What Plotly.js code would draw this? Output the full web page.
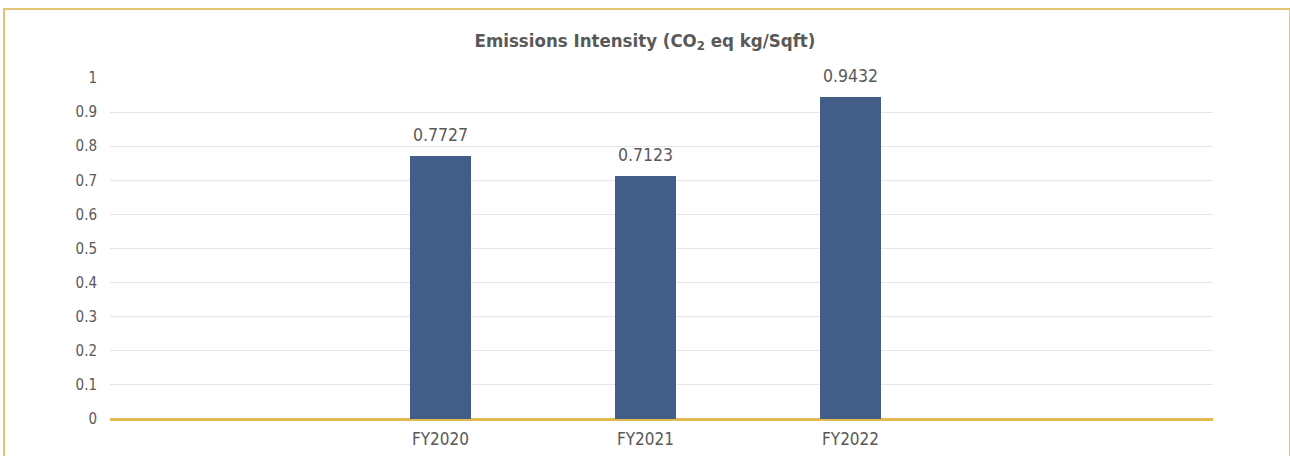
<!DOCTYPE html>
<html><head><meta charset="utf-8">
<script src="https://cdn.plot.ly/plotly-3.0.1.min.js"></script>
<style>
html,body{margin:0;padding:0;background:#fff;}
#wrap{position:relative;width:1290px;height:456px;overflow:hidden;}
#chart{position:absolute;left:0;top:0;width:1290px;height:456px;}
#frame{position:absolute;left:3px;top:8px;width:1284px;height:460px;border:2px solid #e4c372;pointer-events:none;}
</style></head>
<body><div id="wrap"><div id="chart"></div><div id="frame"></div></div>
<script>
const categories = ["FY2020", "FY2021", "FY2022"];
const intensity = [0.7727, 0.7123, 0.9432];
const intensityLabels = ["0.7727", "0.7123", "0.9432"];
const yTicks = [0, 0.1, 0.2, 0.3, 0.4, 0.5, 0.6, 0.7, 0.8, 0.9, 1];
const yTickText = ["0", "0.1", "0.2", "0.3", "0.4", "0.5", "0.6", "0.7", "0.8", "0.9", "1"];

const font = "'DejaVu Sans Condensed', 'Roboto Condensed', 'Liberation Sans Narrow', sans-serif";
const grey = "#595959";

const labels = categories.map((c, i) => ({
  x: c, y: intensity[i], text: intensityLabels[i], showarrow: false,
  xref: "x", yref: "y", yanchor: "bottom", yshift: 9,
  font: {family: font, size: 17.5, color: grey}
}));

Plotly.newPlot("chart", [{
  type: "bar",
  x: categories,
  y: intensity,
  width: 0.293,
  marker: {color: "#425d87"},
  hoverinfo: "skip"
}], {
  width: 1290, height: 456,
  margin: {l: 110, r: 77, t: 78, b: 37},
  paper_bgcolor: "#fff", plot_bgcolor: "#fff",
  showlegend: false,
  annotations: labels,
  title: {text: "<b>Emissions Intensity (CO<sub>2</sub> eq kg/Sqft)</b>", x: 0.5, xanchor: "center", y: 0.912, yanchor: "middle",
    font: {family: font, size: 18.5, color: grey}},
  xaxis: {type: "category", range: [-1.612, 3.768], showgrid: false, showline: false, zeroline: false,
    ticks: "", ticklabelstandoff: 8, tickfont: {family: font, size: 17, color: grey}, fixedrange: true},
  yaxis: {range: [0, 1], tickvals: yTicks, ticktext: yTickText, showgrid: true, gridcolor: "#e6e6e6", gridwidth: 1,
    zeroline: true, zerolinecolor: "#e2b850", zerolinewidth: 3, showline: false, ticks: "", ticklabelstandoff: 12,
    tickfont: {family: font, size: 15, color: grey}, fixedrange: true},
  bargap: 0
}, {displayModeBar: false, staticPlot: true});
</script></body></html>
